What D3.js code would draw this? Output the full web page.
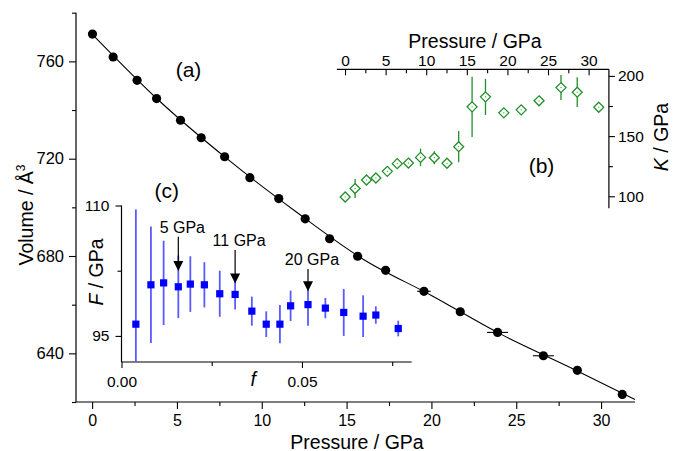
<!DOCTYPE html>
<html>
<head>
<meta charset="utf-8">
<script src="https://cdn.jsdelivr.net/npm/d3@7/dist/d3.min.js"></script>
<style>
  html, body { margin: 0; padding: 0; background: #fff; }
  svg { display: block; font-family: "Liberation Sans", Arial, sans-serif; }
</style>
</head>
<body>
<svg id="chart" width="681" height="451"></svg>
<script>
// ---------- (a) Volume vs pressure ----------
const pressure = [0.02, 1.24, 2.65, 3.80, 5.21, 6.43, 7.81, 9.30, 11.0, 12.56, 14.0, 15.65, 17.3, 19.56, 21.7, 23.9, 26.6, 28.6, 31.25];
const volume   = [771.2, 761.8, 752.2, 744.7, 735.8, 728.6, 720.8, 712.2, 703.6, 695.3, 687.1, 679.9, 674.1, 665.5, 657.1, 648.6, 639.0, 633.0, 623.1];
const pressureErr = [0, 0, 0, 0, 0, 0, 0, 0, 0, 0, 0, 0, 0, 0.4, 0, 0.62, 0.62, 0, 0];
// fitted equation-of-state curve
const fitP = [0, 4, 8, 12, 16, 20, 24, 28, 32];
const fitV = [771.2, 743.5, 719.7, 698.3, 678.6, 663.8, 648.2, 634.8, 621.0];
const volTicks = [640, 680, 720, 760];
const volMinor = [620, 660, 700, 740, 780];
const pTicks = [0, 5, 10, 15, 20, 25, 30];
const pMinor = [2.5, 7.5, 12.5, 17.5, 22.5, 27.5];

// ---------- (b) Bulk modulus vs pressure ----------
const bulkK   = [99.4, 106.4, 113.5, 115.2, 120.7, 127.1, 127.6, 132.3, 132.0, 127.4, 141.2, 174.3, 182.6, 169.3, 171.8, 179.3, 190.3, 186.5, 174.0];
const bulkErr = [1, 7.9, 2, 1.5, 2.5, 2, 3.5, 7.3, 5.5, 2, 13, 25, 15, 2, 1.5, 4, 10.4, 12.4, 1.5];
const kTicks = [100, 150, 200];
const kMinor = [125, 175];

// ---------- (c) Normalized pressure F vs Eulerian strain f ----------
const strainF = [0.00398, 0.00815, 0.01167, 0.01574, 0.01907, 0.02296, 0.02722, 0.03148, 0.03611, 0.0401, 0.04389, 0.04685, 0.05167, 0.05648, 0.06157, 0.06694, 0.07046, 0.07667];
const normF   = [96.35, 100.88, 101.1, 100.65, 100.96, 100.88, 99.85, 99.77, 97.85, 96.35, 96.35, 98.46, 98.6, 98.2, 97.7, 97.27, 97.4, 95.85];
const normFErr = [13.2, 6.7, 4.85, 3.6, 3.2, 2.6, 2.65, 1.73, 1.67, 1.48, 2.2, 1.75, 2.44, 1.17, 2.7, 2.4, 1.0, 0.9];
const fTicks = [0, 0.05];
const fTickLabels = ["0.00", "0.05"];
const fMinor = [0.025, 0.075];
const FTicks = [95, 110];
const FMinor = [102.5];
const arrowLabels = ["5 GPa", "11 GPa", "20 GPa"];
const arrowF = [0.01574, 0.03148, 0.05167];
const arrowTipF = [102.46, 101.04, 100.15];
const arrowTailF = [106.42, 104.88, 102.69];

// ================= drawing =================
const svg = d3.select("#chart");
const FONT_MAIN_Y = 16.5, FONT_MAIN_X = 16, FONT_INSET = 15.5, FONT_TITLE = 19.5;

function styleAxis(g, fs) {
  g.select(".domain").remove();
  g.selectAll("line").attr("stroke", "#000").attr("stroke-width", 1.1);
  g.selectAll("text").attr("font-size", fs).attr("fill", "#000").attr("font-family", "Liberation Sans, Arial, sans-serif");
}

// ---- main scales
const x = d3.scaleLinear().domain([-0.95, 32]).range([76, 635]);
const y = d3.scaleLinear().domain([620, 780]).range([402, 12.7]);

// main spines
svg.append("line").attr("x1", x.range()[0]).attr("x2", x.range()[1]).attr("y1", y(620)).attr("y2", y(620)).attr("stroke", "#000").attr("stroke-width", 1.2);
svg.append("line").attr("x1", x.range()[0]).attr("x2", x.range()[0]).attr("y1", y(620)).attr("y2", y(780)).attr("stroke", "#000").attr("stroke-width", 1.2);

const gx = svg.append("g").attr("transform", `translate(0,${y(620)})`)
  .call(d3.axisBottom(x).tickValues(pTicks).tickFormat(d3.format("d")).tickSizeInner(7).tickSizeOuter(0).tickPadding(6));
styleAxis(gx, FONT_MAIN_X);
const gxm = svg.append("g").attr("transform", `translate(0,${y(620)})`)
  .call(d3.axisBottom(x).tickValues(pMinor).tickFormat("").tickSizeInner(4).tickSizeOuter(0));
styleAxis(gxm, FONT_MAIN_X);

const gy = svg.append("g").attr("transform", `translate(${x.range()[0]},0)`)
  .call(d3.axisLeft(y).tickValues(volTicks).tickFormat(d3.format("d")).tickSizeInner(7).tickSizeOuter(0).tickPadding(5));
styleAxis(gy, FONT_MAIN_Y);
const gym = svg.append("g").attr("transform", `translate(${x.range()[0]},0)`)
  .call(d3.axisLeft(y).tickValues(volMinor).tickFormat("").tickSizeInner(4).tickSizeOuter(0));
styleAxis(gym, FONT_MAIN_Y);

// titles
svg.append("text").attr("x", 357).attr("y", 448.5).attr("text-anchor", "middle").attr("font-size", FONT_TITLE).text("Pressure / GPa");
const vt = svg.append("text").attr("transform", "translate(33,215) rotate(-90)").attr("text-anchor", "middle").attr("font-size", FONT_TITLE);
vt.append("tspan").text("Volume / Å");
vt.append("tspan").attr("font-size", 12).attr("dy", -8).text("3");

// fit curve
const line = d3.line().x((d, i) => x(fitP[i])).y((d, i) => y(fitV[i])).curve(d3.curveMonotoneX);
svg.append("path").attr("d", line(fitP)).attr("fill", "none").attr("stroke", "#000").attr("stroke-width", 1.1);

// horizontal error bars
svg.append("g").selectAll("line").data(pressure.map((p, i) => i).filter(i => pressureErr[i] > 0)).join("line")
  .attr("x1", i => x(pressure[i] - pressureErr[i])).attr("x2", i => x(pressure[i] + pressureErr[i]))
  .attr("y1", i => y(volume[i])).attr("y2", i => y(volume[i])).attr("stroke", "#000").attr("stroke-width", 1.1);

svg.append("g").selectAll("circle").data(pressure).join("circle")
  .attr("cx", d => x(d)).attr("cy", (d, i) => y(volume[i])).attr("r", 4.6).attr("fill", "#000");

// ---- inset (b)
const xb = d3.scaleLinear().domain([-1, 32.5]).range([336.9, 608.9]);
const yb = d3.scaleLinear().domain([90, 205.5]).range([208.3, 69.3]);
const GREEN = "#22902a";

svg.append("line").attr("x1", xb.range()[0]).attr("x2", xb.range()[1]).attr("y1", yb(205.5)).attr("y2", yb(205.5)).attr("stroke", "#000").attr("stroke-width", 1.2);
svg.append("line").attr("x1", xb.range()[1]).attr("x2", xb.range()[1]).attr("y1", yb(205.5)).attr("y2", yb(90)).attr("stroke", "#000").attr("stroke-width", 1.2);

const gbx = svg.append("g").attr("transform", `translate(0,${yb(205.5)})`)
  .call(d3.axisTop(xb).tickValues(pTicks).tickFormat(d3.format("d")).tickSizeInner(-6).tickSizeOuter(0).tickPadding(3));
styleAxis(gbx, FONT_INSET);
const gbxm = svg.append("g").attr("transform", `translate(0,${yb(205.5)})`)
  .call(d3.axisTop(xb).tickValues(pMinor).tickFormat("").tickSizeInner(-4).tickSizeOuter(0));
styleAxis(gbxm, FONT_INSET);

const gby = svg.append("g").attr("transform", `translate(${xb.range()[1]},0)`)
  .call(d3.axisRight(yb).tickValues(kTicks).tickFormat(d3.format("d")).tickSizeInner(6).tickSizeOuter(0).tickPadding(3));
styleAxis(gby, FONT_INSET);
const gbym = svg.append("g").attr("transform", `translate(${xb.range()[1]},0)`)
  .call(d3.axisRight(yb).tickValues(kMinor).tickFormat("").tickSizeInner(4).tickSizeOuter(0));
styleAxis(gbym, FONT_INSET);

svg.append("text").attr("x", 475).attr("y", 48).attr("text-anchor", "middle").attr("font-size", FONT_TITLE).text("Pressure / GPa");
const kt = svg.append("text").attr("transform", "translate(668,137) rotate(-90)").attr("text-anchor", "middle").attr("font-size", FONT_TITLE);
kt.append("tspan").attr("font-style", "italic").text("K");
kt.append("tspan").text(" / GPa");

// error bars (clipped to inset box)
svg.append("g").selectAll("line").data(bulkK).join("line")
  .attr("x1", (d, i) => xb(pressure[i])).attr("x2", (d, i) => xb(pressure[i]))
  .attr("y1", (d, i) => yb(Math.min(205.5, d + bulkErr[i]))).attr("y2", (d, i) => yb(Math.max(90, d - bulkErr[i])))
  .attr("stroke", GREEN).attr("stroke-width", 1.3);
const dia = 5;
svg.append("g").selectAll("path").data(bulkK).join("path")
  .attr("transform", (d, i) => `translate(${xb(pressure[i])},${yb(d)})`)
  .attr("d", `M0,${-dia}L${dia},0L0,${dia}L${-dia},0Z`)
  .attr("fill", "#fff").attr("stroke", GREEN).attr("stroke-width", 1.3);
svg.append("g").selectAll("rect").data(bulkK).join("rect")
  .attr("x", (d, i) => xb(pressure[i]) - 0.5).attr("y", d => yb(d) - 0.5).attr("width", 1).attr("height", 1).attr("fill", GREEN);

// ---- inset (c)
const xc = d3.scaleLinear().domain([0, 0.0804]).range([121.5, 411.7]);
const yc = d3.scaleLinear().domain([92, 110]).range([362, 205.5]);
const BLUE = "#0000ff";

svg.append("line").attr("x1", xc.range()[0]).attr("x2", xc.range()[1]).attr("y1", yc(92)).attr("y2", yc(92)).attr("stroke", "#000").attr("stroke-width", 1.2);
svg.append("line").attr("x1", xc.range()[0]).attr("x2", xc.range()[0]).attr("y1", yc(92)).attr("y2", yc(110)).attr("stroke", "#000").attr("stroke-width", 1.2);

const gcx = svg.append("g").attr("transform", `translate(0,${yc(92)})`)
  .call(d3.axisBottom(xc).tickValues(fTicks).tickFormat((d, i) => fTickLabels[i]).tickSizeInner(6).tickSizeOuter(0).tickPadding(8));
styleAxis(gcx, FONT_INSET);
const gcxm = svg.append("g").attr("transform", `translate(0,${yc(92)})`)
  .call(d3.axisBottom(xc).tickValues(fMinor).tickFormat("").tickSizeInner(4).tickSizeOuter(0));
styleAxis(gcxm, FONT_INSET);
const gcy = svg.append("g").attr("transform", `translate(${xc.range()[0]},0)`)
  .call(d3.axisLeft(yc).tickValues(FTicks).tickFormat(d3.format("d")).tickSizeInner(6).tickSizeOuter(0).tickPadding(6));
styleAxis(gcy, FONT_INSET);
const gcym = svg.append("g").attr("transform", `translate(${xc.range()[0]},0)`)
  .call(d3.axisLeft(yc).tickValues(FMinor).tickFormat("").tickSizeInner(4).tickSizeOuter(0));
styleAxis(gcym, FONT_INSET);

svg.append("text").attr("x", xc(0.0365)).attr("y", 386).attr("text-anchor", "middle").attr("font-size", FONT_TITLE).attr("font-style", "italic").text("f");
const ft = svg.append("text").attr("transform", "translate(103,272) rotate(-90)").attr("text-anchor", "middle").attr("font-size", FONT_TITLE);
ft.append("tspan").attr("font-style", "italic").text("F");
ft.append("tspan").text(" / GPa");

svg.append("g").selectAll("line").data(normF).join("line")
  .attr("x1", (d, i) => xc(strainF[i])).attr("x2", (d, i) => xc(strainF[i]))
  .attr("y1", (d, i) => yc(Math.min(110, d + normFErr[i]))).attr("y2", (d, i) => yc(Math.max(92, d - normFErr[i])))
  .attr("stroke", "#5a5aff").attr("stroke-width", 1.8);
const sq = 7.2;
svg.append("g").selectAll("rect").data(normF).join("rect")
  .attr("x", (d, i) => xc(strainF[i]) - sq / 2).attr("y", d => yc(d) - sq / 2)
  .attr("width", sq).attr("height", sq).attr("fill", BLUE);

// arrows with pressure labels
arrowLabels.forEach((lab, i) => {
  const ax = xc(arrowF[i]);
  const tipY = yc(arrowTipF[i]), tailY = yc(arrowTailF[i]);
  svg.append("line").attr("x1", ax).attr("x2", ax).attr("y1", tailY).attr("y2", tipY - 8).attr("stroke", "#000").attr("stroke-width", 1.2);
  svg.append("path").attr("d", `M${ax - 5},${tipY - 10}L${ax + 5},${tipY - 10}L${ax},${tipY}Z`).attr("fill", "#000");
  svg.append("text").attr("x", ax + 4).attr("y", tailY - 4).attr("text-anchor", "middle").attr("font-size", 16).text(lab);
});

// panel labels
svg.append("text").attr("x", 188.5).attr("y", 77).attr("text-anchor", "middle").attr("font-size", 21).text("(a)");
svg.append("text").attr("x", 541.5).attr("y", 173).attr("text-anchor", "middle").attr("font-size", 21).text("(b)");
svg.append("text").attr("x", 166.7).attr("y", 198).attr("text-anchor", "middle").attr("font-size", 21).text("(c)");
</script>
</body>
</html>
